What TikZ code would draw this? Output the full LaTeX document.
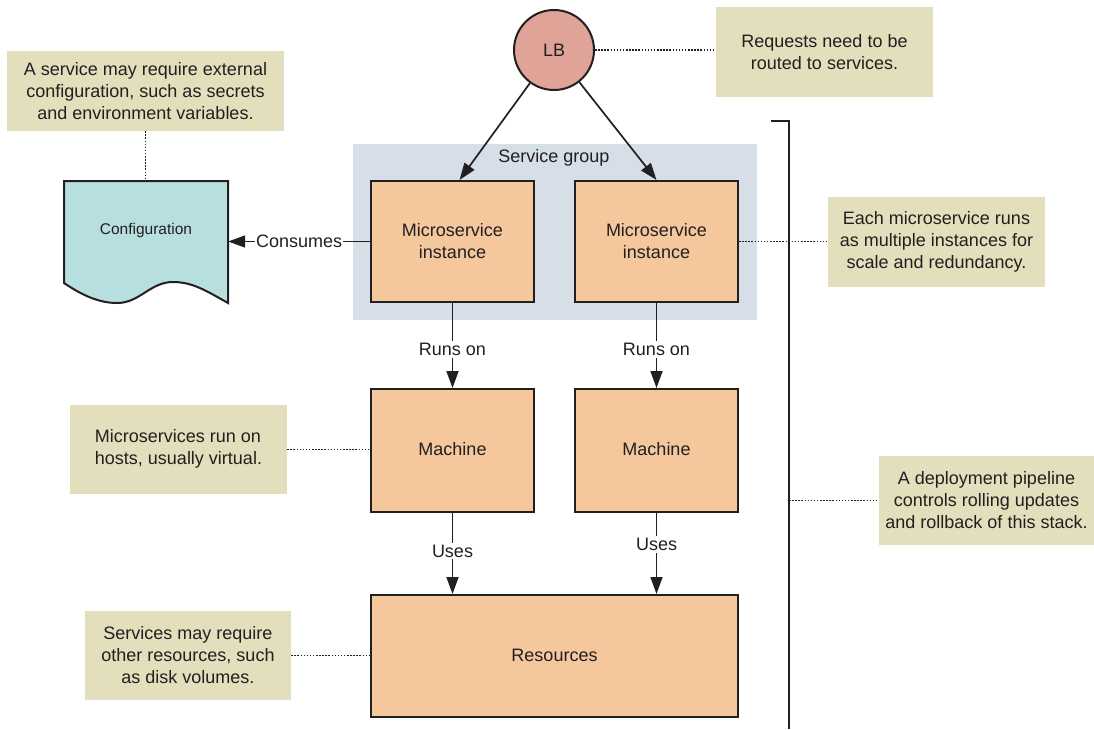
\documentclass[tikz,border=0pt]{standalone}
\usepackage{fontspec}
\setmainfont{Liberation Sans}
\usetikzlibrary{arrows.meta}
\definecolor{notefill}{HTML}{E3DEBC}
\definecolor{boxfill}{HTML}{F5C79C}
\definecolor{grpfill}{HTML}{D6DEE8}
\definecolor{cfgfill}{HTML}{B8DFDF}
\definecolor{lbfill}{HTML}{E0A397}
\definecolor{ink}{HTML}{231F20}
\tikzset{
  box/.style={draw=ink, line width=2pt, fill=boxfill, inner sep=0pt, align=center, text=ink, font=\fontsize{18}{22}\selectfont},
  note/.style={fill=notefill, inner sep=0pt, align=center, text=ink, font=\fontsize{18}{22}\selectfont},
  arr/.style={draw=ink, line width=1.7pt, -{Triangle[length=17pt,width=12pt]}},
  lbl/.style={fill=white, inner sep=2pt, text=ink, font=\fontsize{18}{22}\selectfont},
  dots/.style={draw=ink, line width=1.7pt, dash pattern=on 1.5pt off 1.6pt},
}
\begin{document}
\begin{tikzpicture}[x=1pt,y=-1pt]
\useasboundingbox (0,0) rectangle (1094,729);
% service group
\node[fill=grpfill, minimum width=404, minimum height=176, inner sep=0pt] (grp) at (555,232) {};
\node[text=ink, font=\fontsize{18}{22}\selectfont] (grplbl) at (554,158) {Service group};
% LB
\node[circle, draw=ink, line width=2pt, fill=lbfill, minimum size=80pt, inner sep=0pt, text=ink, font=\fontsize{18}{22}\selectfont] (lb) at (554,50) {LB};
% boxes
\node[box, minimum width=163, minimum height=121] (ms1) at (452.5,241.5) {Microservice\\instance};
\node[box, minimum width=163, minimum height=121] (ms2) at (656.5,241.5) {Microservice\\instance};
\node[box, minimum width=163, minimum height=123] (m1) at (452.5,450.5) {\raisebox{3pt}{Machine}};
\node[box, minimum width=163, minimum height=123] (m2) at (656.5,450.5) {\raisebox{3pt}{Machine}};
\node[box, minimum width=367, minimum height=122] (res) at (554.5,656) {\raisebox{2pt}{Resources}};
% configuration document
\path[fill=cfgfill, draw=ink, line width=2pt] (64,181) -- (228,181) -- (228,303)
  .. controls (205,290) and (192,282) .. (173,282)
  .. controls (150,282) and (140,303) .. (117,303)
  .. controls (95,303) and (76,291) .. (64,283) -- cycle;
\node[minimum width=164, minimum height=100, inner sep=0pt, text=ink, font=\fontsize{15.5}{19}\selectfont] (cfg) at (146,230) {Configuration};
% notes
\node[note, minimum width=217, minimum height=90] (n1) at (824.5,52) {Requests need to be\\routed to services.};
\node[note, minimum width=277, minimum height=80] (n2) at (145.5,91) {A service may require external\\configuration, such as secrets\\and environment variables.};
\node[note, minimum width=217, minimum height=90] (n3) at (936.5,242) {Each microservice runs\\as multiple instances for\\scale and redundancy.};
\node[note, minimum width=217, minimum height=89] (n4) at (178.5,449.5) {\begin{tabular}{@{}l@{}}Microservices run on\\hosts, usually virtual.\end{tabular}};
\node[note, minimum width=206, minimum height=89] (n5) at (188,655.5) {Services may require\\other resources, such\\as disk volumes.};
\node[note, minimum width=215, minimum height=89] (n6) at (986.5,500.5) {A deployment pipeline\\controls rolling updates\\and rollback of this stack.};
% arrows
\draw[arr] (lb) -- ([xshift=7pt]ms1.north);
\draw[arr] (lb) -- (ms2.north);
\draw[arr] (ms1.west) -- node[lbl, inner sep=1pt]{Consumes} (ms1.west -| cfg.east);
\draw[arr] (ms1.south) -- node[lbl, pos=0.55]{Runs on} (m1.north);
\draw[arr] (ms2.south) -- node[lbl, pos=0.55]{Runs on} (m2.north);
\draw[arr] (m1.south) -- node[lbl, pos=0.47]{Uses} (m1.south |- res.north);
\draw[arr] (m2.south) -- node[lbl, pos=0.39]{Uses} (m2.south |- res.north);
% bracket
\coordinate (bt) at (771,121);
\coordinate (bm) at (789,121);
\coordinate (bb) at (789,729);
\draw[ink, line width=2.4pt] (bt) -- (bm) -- (bb);
% dotted leaders
\draw[dots] (lb.east) -- (lb.east -| n1.west);
\draw[dots] (n2.south) -- (n2.south |- cfg.north);
\draw[dots] (ms2.east) -- (ms2.east -| n3.west);
\draw[dots] (n4.east) -- (n4.east -| m1.west);
\draw[dots] (n5.east) -- (n5.east -| res.west);
\draw[dots] (bb |- n6.west) -- (n6.west);
\end{tikzpicture}
\end{document}
